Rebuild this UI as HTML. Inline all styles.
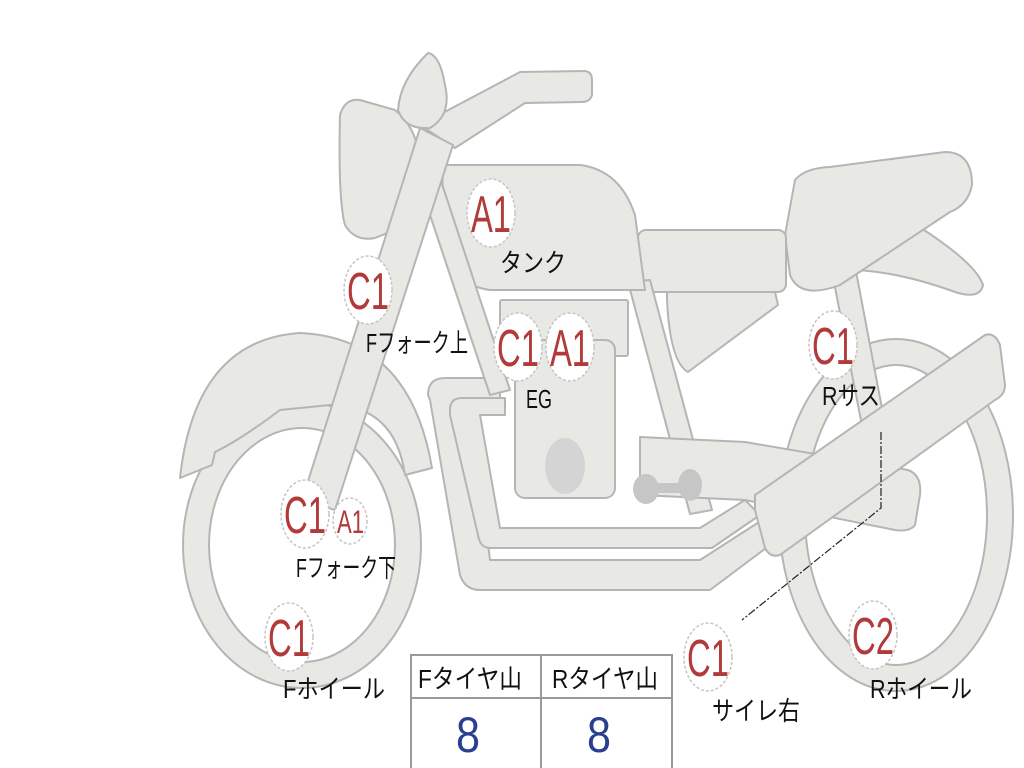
<!DOCTYPE html>
<html><head><meta charset="utf-8"><style>
html,body{margin:0;padding:0;background:#fff;width:1024px;height:768px;overflow:hidden}
svg{display:block}
.p{fill:#e8e8e5;stroke:#b5b5b5;stroke-width:2;stroke-linejoin:round}
.t{font-family:"Liberation Sans","Noto Sans CJK JP",sans-serif;font-size:26px;fill:#111}
.c{fill:#fff;stroke:#c4c4c4;stroke-width:1.5;stroke-dasharray:3 2}
.r{font-family:"Liberation Sans",sans-serif;font-size:52px;fill:#b23a3a}
</style></head><body>
<svg width="1024" height="768" viewBox="0 0 1024 768">
<ellipse cx="896" cy="515" rx="104" ry="163" fill="none" stroke="#b5b5b5" stroke-width="28"/>
<ellipse cx="896" cy="515" rx="104" ry="163" fill="none" stroke="#e8e8e5" stroke-width="24"/>
<ellipse cx="302" cy="545" rx="106" ry="130" fill="none" stroke="#b5b5b5" stroke-width="28"/>
<ellipse cx="302" cy="545" rx="106" ry="130" fill="none" stroke="#e8e8e5" stroke-width="24"/>
<path class="p" d="M180,478 Q195,340 300,333 Q410,338 432,468 L405,475 Q395,405 330,405 L280,410 Q240,440 215,452 L212,465 Z"/>
<path class="p" d="M832,272 L855,266 L888,440 L866,446 Z"/>
<path class="p" d="M900,215 Q975,260 983,285 Q980,300 955,292 Q900,272 855,270 Z"/>
<path class="p" d="M795,180 Q805,168 830,167 L945,152 Q972,152 972,185 Q968,205 950,212 L840,285 Q800,300 790,275 L785,235 Z"/>
<rect class="p" x="638" y="230" width="148" height="62" rx="8"/>
<path class="p" d="M667,292 L775,292 L778,305 L688,372 Q670,362 667,300 Z"/>
<path class="p" d="M628,282 L650,280 L712,510 L690,514 Z"/>
<path class="p" d="M428,395 Q428,378 445,378 L500,378 L500,398 L470,398 L490,560 L700,560 L770,515 L790,530 L710,590 L480,590 Q465,590 460,575 L430,400 Z"/>
<path class="p" d="M450,410 Q450,398 462,398 L505,398 L505,415 L480,415 L500,528 L700,528 L745,500 L760,515 L712,548 L490,548 Q480,548 478,535 L450,415 Z"/>
<path class="p" d="M640,437 L745,442 L908,470 Q922,475 920,495 L915,525 Q910,532 895,530 L745,500 L640,495 Z"/>
<rect class="p" x="500" y="300" width="128" height="56" rx="2"/>
<rect class="p" x="515" y="340" width="100" height="158" rx="10"/>
<ellipse cx="565" cy="466" rx="20" ry="28" fill="#d4d4d4"/>
<rect x="638" y="483" width="58" height="10" fill="#c6c6c6"/>
<ellipse cx="646" cy="489" rx="13" ry="15" fill="#c6c6c6"/>
<ellipse cx="690" cy="485" rx="12" ry="16" fill="#c6c6c6"/>
<path class="p" d="M755,495 L985,335 Q995,332 1000,345 L1005,385 Q1005,395 995,400 L780,555 Q770,558 765,548 L755,510 Z"/>
<path class="p" d="M442,165 L580,165 Q620,170 635,215 L645,290 L490,290 Q455,285 445,255 Z"/>
<path class="p" d="M420,185 L440,178 L510,390 L490,395 Z"/>
<path class="p" d="M420,125 L520,72 L585,71 Q592,72 592,80 L592,95 Q590,102 582,102 L525,103 L455,148 Z"/>
<path class="p" d="M340,115 Q345,98 360,100 L395,110 Q420,130 420,170 Q418,210 400,228 L375,238 Q355,242 345,225 Q338,200 340,115 Z"/>
<path class="p" d="M428,53 Q440,55 445,85 Q452,115 430,128 Q405,130 398,110 Q400,80 428,53 Z"/>
<path class="p" d="M420,128 L453,145 L335,510 L302,500 Z"/>
<path d="M881,432 L881,508 L742,620" fill="none" stroke="#222" stroke-width="1.2" stroke-dasharray="8 2 2 2"/>
<ellipse class="c" cx="491" cy="213" rx="24" ry="34"/><text class="r" x="471" y="232" textLength="40" lengthAdjust="spacingAndGlyphs">A1</text>
<ellipse class="c" cx="368" cy="290" rx="24" ry="34"/><text class="r" x="347" y="309" textLength="42" lengthAdjust="spacingAndGlyphs">C1</text>
<ellipse class="c" cx="518" cy="347" rx="24" ry="34"/><text class="r" x="497" y="366" textLength="42" lengthAdjust="spacingAndGlyphs">C1</text>
<ellipse class="c" cx="570" cy="347" rx="24" ry="34"/><text class="r" x="550" y="366" textLength="40" lengthAdjust="spacingAndGlyphs">A1</text>
<ellipse class="c" cx="833" cy="345" rx="24" ry="34"/><text class="r" x="812" y="364" textLength="42" lengthAdjust="spacingAndGlyphs">C1</text>
<ellipse class="c" cx="305" cy="514" rx="24" ry="34"/><text class="r" x="284" y="533" textLength="42" lengthAdjust="spacingAndGlyphs">C1</text>
<ellipse class="c" cx="350" cy="521" rx="17" ry="23"/><text class="r" x="337" y="533" style="font-size:32px" textLength="27" lengthAdjust="spacingAndGlyphs">A1</text>
<ellipse class="c" cx="289" cy="637" rx="24" ry="34"/><text class="r" x="268" y="656" textLength="42" lengthAdjust="spacingAndGlyphs">C1</text>
<ellipse class="c" cx="708" cy="657" rx="24" ry="34"/><text class="r" x="687" y="676" textLength="42" lengthAdjust="spacingAndGlyphs">C1</text>
<ellipse class="c" cx="873" cy="635" rx="24" ry="34"/><text class="r" x="852" y="654" textLength="42" lengthAdjust="spacingAndGlyphs">C2</text>
<text class="t" x="500" y="272" textLength="66" lengthAdjust="spacingAndGlyphs">タンク</text>
<text class="t" x="366" y="352" textLength="102" lengthAdjust="spacingAndGlyphs">Fフォーク上</text>
<text class="t" x="526" y="408" textLength="26" lengthAdjust="spacingAndGlyphs">EG</text>
<text class="t" x="822" y="405" textLength="58" lengthAdjust="spacingAndGlyphs">Rサス</text>
<text class="t" x="296" y="577" textLength="100" lengthAdjust="spacingAndGlyphs">Fフォーク下</text>
<text class="t" x="283" y="698" textLength="102" lengthAdjust="spacingAndGlyphs">Fホイール</text>
<text class="t" x="712" y="720" textLength="88" lengthAdjust="spacingAndGlyphs">サイレ右</text>
<text class="t" x="870" y="698" textLength="102" lengthAdjust="spacingAndGlyphs">Rホイール</text>
<rect x="411" y="655" width="261" height="115" fill="#fff" stroke="#999" stroke-width="2"/>
<line x1="411" y1="698" x2="672" y2="698" stroke="#999" stroke-width="2"/>
<line x1="541" y1="655" x2="541" y2="768" stroke="#999" stroke-width="2"/>
<text class="t" x="418" y="688" textLength="104" lengthAdjust="spacingAndGlyphs">Fタイヤ山</text>
<text class="t" x="552" y="688" textLength="106" lengthAdjust="spacingAndGlyphs">Rタイヤ山</text>
<text x="456" y="752" font-family="Liberation Sans,sans-serif" font-size="50" fill="#2a3f8f" textLength="24" lengthAdjust="spacingAndGlyphs">8</text>
<text x="587" y="752" font-family="Liberation Sans,sans-serif" font-size="50" fill="#2a3f8f" textLength="24" lengthAdjust="spacingAndGlyphs">8</text>
</svg>
</body></html>
